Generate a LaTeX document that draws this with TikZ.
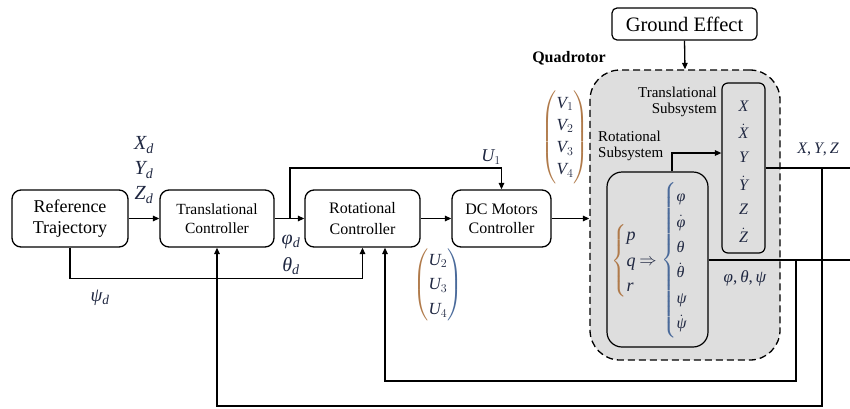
\documentclass[tikz,border=0pt]{standalone}
\usepackage{amsmath}
\usepackage{fontspec}
\setmainfont{Liberation Serif}
\DeclareSymbolFont{letters}{TU}{\rmdefault}{m}{it}
\SetSymbolFont{letters}{bold}{TU}{\rmdefault}{b}{it}
\Umathchardef\varphi="0 \symletters "03C6
\Umathchardef\theta="0 \symletters "03B8
\Umathchardef\psi="0 \symletters "03C8
\mathcode`\,="602C
\usetikzlibrary{arrows.meta,calc}
\definecolor{mathcol}{HTML}{1E2640}
\definecolor{brn}{HTML}{B07A4A}
\definecolor{blu}{HTML}{4A6A9A}
\definecolor{qgray}{HTML}{DEDEDE}
\newcommand\fsz[1]{\fontsize{#1}{\dimexpr #1pt*6/5\relax}\selectfont}
\begin{document}
\begin{tikzpicture}[x=1pt,y=-1pt,
  blk/.style={draw, line width=1.3pt, rounded corners=9pt, align=center, inner sep=0pt},
  conn/.style={line width=1.3pt},
  arr/.style={conn,-{Triangle[length=6.5pt,width=5.5pt]}},
  mth/.style={text=mathcol, inner sep=0pt},
  lbl/.style={inner sep=0pt, align=center}]
\useasboundingbox (0,0) rectangle (850,408);

% quadrotor dashed region
\node[draw, dashed, dash pattern=on 7pt off 4pt, line width=1.3pt, fill=qgray, rounded corners=30pt,
  minimum width=190pt, minimum height=290pt, inner sep=0pt] (quad) at (685,215) {};
\node[draw, line width=1.2pt, fill=qgray, rounded corners=6pt, minimum width=43pt, minimum height=170pt, inner sep=0pt] (ts) at (743.5,168) {};
\node[draw, line width=1.2pt, fill=qgray, rounded corners=15pt, minimum width=101pt, minimum height=175pt, inner sep=0pt] (rs) at (657.5,259.5) {};

% main blocks
\node[blk, minimum width=116pt, minimum height=57pt, font=\fsz{18}] (ref) at (70,218.5) {Reference\\[-1pt]Trajectory};
\node[blk, minimum width=114pt, minimum height=57pt, font=\fsz{15.5}] (tc) at (217,218.5) {Translational\\[1pt]Controller};
\node[blk, minimum width=115pt, minimum height=57pt, font=\fsz{16}] (rc) at (362.5,218.5) {Rotational\\[1pt]Controller};
\node[blk, minimum width=99pt, minimum height=57pt, font=\fsz{16}] (dc) at (501.5,218.5) {DC Motors\\[0pt]Controller};
\node[blk, rounded corners=5pt, line width=1.2pt, minimum width=145pt, minimum height=32pt, font=\fsz{20.5}] (ge) at (684.5,24) {Ground Effect};

% labels
\node[lbl, font=\bfseries\fsz{16}] (qlab) at (569,58) {Quadrotor};
\node[lbl, anchor=east, align=right, font=\fsz{15}] (tslab) at (717,102) {Translational\\[-2pt]Subsystem};
\node[lbl, anchor=west, align=left, font=\fsz{15}] (rslab) at (598,146) {Rotational\\[-2pt]Subsystem};

\node[mth, font=\fsz{20}] (xd) at (144,145) {$X_d$};
\node[mth, font=\fsz{20}] (yd) at (144,170) {$Y_d$};
\node[mth, font=\fsz{20}] (zd) at (144,195) {$Z_d$};
\node[mth, font=\fsz{20}] (phid) at (291,242) {$\varphi_d$};
\node[mth, font=\fsz{20}] (thd) at (291,266) {$\theta_d$};
\node[mth, font=\fsz{19}] (psid) at (100,298) {$\psi_d$};
\node[mth, font=\fsz{18}] (u1) at (491,157) {$U_1$};
\node[mth, font=\fsz{17}] (vvec) at (565,137) {\renewcommand\arraystretch{1.08}$\color{brn}\left(\color{mathcol}\begin{array}{@{}c@{}}V_1\\V_2\\V_3\\V_4\end{array}\color{brn}\right)$};
\node[mth, font=\fsz{17}] (uvec) at (438,285) {\renewcommand\arraystretch{1.22}$\color{brn}\left(\color{mathcol}\begin{array}{@{}c@{}}U_2\\U_3\\U_4\end{array}\color{blu}\right)$};
\node[mth, font=\fsz{16}] (xyz) at (818,149) {$X,Y,Z$};
\node[mth, font=\fsz{17}] (pts) at (745,278) {$\varphi,\theta,\psi$};

% translational subsystem states
\foreach \t/\yy [count=\i] in {X/106,\dot X/131,Y/157,\dot Y/183,Z/209,\dot Z/235}
  \node[mth, font=\fsz{16}] (tsv\i) at (743.5,\yy) {$\t$};

% rotational subsystem content
\node[mth, font=\fsz{18}, anchor=west] (pqr) at (611,261) {\renewcommand\arraystretch{1.18}$\color{brn}\left\{\color{mathcol}\begin{array}{@{}l@{}}p\\q\\r\end{array}\right.$};
\node[mth, font=\fsz{18}] (impl) at (648,262) {$\Rightarrow$};
\node[mth, font=\fsz{16}, anchor=west] (ang) at (661,260) {\renewcommand\arraystretch{1.32}$\color{blu}\left\{\color{mathcol}\begin{array}{@{}l@{}}\varphi\\\dot\varphi\\\theta\\\dot\theta\\\psi\\\dot\psi\end{array}\right.$};

% connectors
\coordinate (b1) at (290,218.5);
\draw[arr] (ref.east) -- (tc.west);
\draw[arr] (tc.east) -- (rc.west);
\draw[arr] (b1) -- (290,168) -| (dc.north);
\draw[arr] (ref.south) -- ++(0,31) -| (rc.south);
\draw[arr] (rc.east) -- (dc.west);
\draw[arr] (dc.east) -- (dc.east -| quad.west);
\draw[arr] (ge.south) -- (quad.north);
\draw[arr] ([xshift=14.5pt]rs.north) |- ([yshift=15pt]ts.west);

\coordinate (oxyz) at (850,168);
\coordinate (bxyz) at (822,168);
\coordinate (oang) at (850,260);
\coordinate (bang) at (796,260);
\draw[conn] (ts.east) -- (oxyz);
\draw[conn] (rs.east |- oang) -- (oang);
\draw[arr] (bxyz) -- (822,406) -| (tc.south);
\draw[arr] (bang) -- (796,381) -| ([xshift=22.5pt]rc.south);
\end{tikzpicture}
\end{document}
